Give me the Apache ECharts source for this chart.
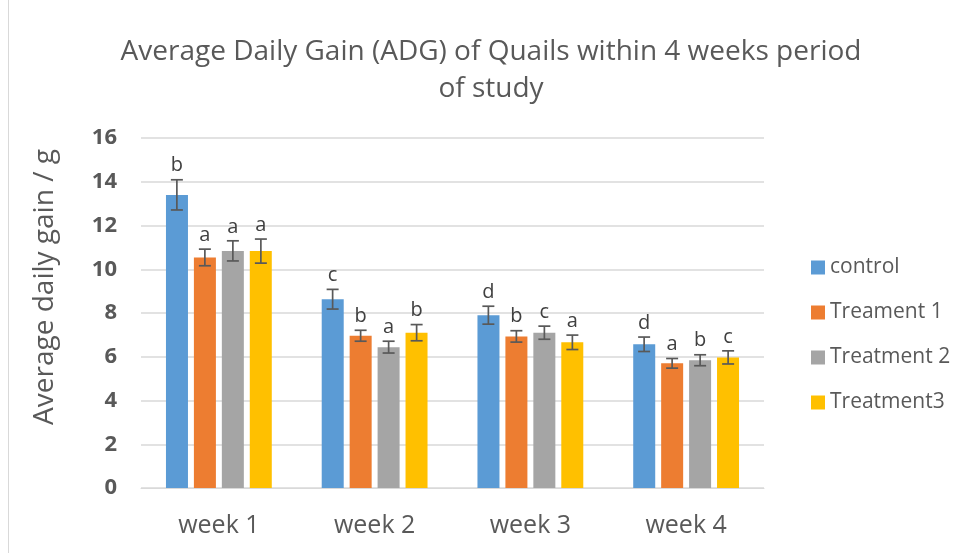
<!DOCTYPE html>
<html>
<head>
<meta charset="utf-8">
<script src="https://cdn.jsdelivr.net/npm/echarts@6/dist/echarts.min.js"></script>
<style>
  html, body { margin: 0; padding: 0; background: #fff; }
  #frame { position: absolute; left: 8px; top: -2px; width: 960px; height: 560px; border: 1px solid #d9d9d9; box-sizing: border-box; }
  #chart { width: 961px; height: 553px; }
</style>
</head>
<body>
<div id="frame"></div>
<div id="chart"></div>
<script>
const categories = ['week 1', 'week 2', 'week 3', 'week 4']
const seriesNames = ['control', 'Treament 1', 'Treatment 2', 'Treatment3']
const colors = ['#5B9BD5', '#ED7D31', '#A5A5A5', '#FFC000']

// mean values per series
const control = [13.4, 8.63, 7.9, 6.57]
const treatment1 = [10.54, 6.96, 6.93, 5.7]
const treatment2 = [10.84, 6.44, 7.1, 5.84]
const treatment3 = [10.83, 7.1, 6.66, 5.97]

// standard errors
const controlErr = [0.69, 0.45, 0.41, 0.33]
const treatment1Err = [0.38, 0.25, 0.26, 0.22]
const treatment2Err = [0.46, 0.27, 0.3, 0.25]
const treatment3Err = [0.55, 0.37, 0.33, 0.3]

// significance letters
const controlLetters = ['b', 'c', 'd', 'd']
const treatment1Letters = ['a', 'b', 'b', 'a']
const treatment2Letters = ['a', 'a', 'c', 'b']
const treatment3Letters = ['a', 'b', 'a', 'c']

const values = [control, treatment1, treatment2, treatment3]
const errors = [controlErr, treatment1Err, treatment2Err, treatment3Err]
const letters = [controlLetters, treatment1Letters, treatment2Letters, treatment3Letters]

const BAR_W = 22
const BAR_STEP = 28
const FONT = '"Open Sans", sans-serif'

const chart = echarts.init(document.getElementById('chart'))

const barSeries = seriesNames.map((name, i) => ({
  name: name,
  type: 'bar',
  data: values[i],
  barWidth: BAR_W,
  barGap: '27%',
  itemStyle: { color: colors[i] },
  z: 2
}))

const errSeries = seriesNames.map((name, i) => ({
  type: 'custom',
  name: name + ' err',
  data: values[i].map((v, j) => [j, v, errors[i][j]]),
  z: 5,
  silent: true,
  renderItem: (params, api) => {
    const c = api.value(0)
    const v = api.value(1)
    const e = api.value(2)
    const off = (i - 1.5) * BAR_STEP
    const hi = api.coord([c, v + e])
    const lo = api.coord([c, v - e])
    const x = hi[0] + off
    const cap = 6
    const stroke = { stroke: '#595959', lineWidth: 1.7 }
    return {
      type: 'group',
      children: [
        { type: 'line', shape: { x1: x, y1: hi[1], x2: x, y2: lo[1] }, style: stroke },
        { type: 'line', shape: { x1: x - cap, y1: hi[1], x2: x + cap, y2: hi[1] }, style: stroke },
        { type: 'line', shape: { x1: x - cap, y1: lo[1], x2: x + cap, y2: lo[1] }, style: stroke },
        {
          type: 'text',
          style: {
            x: x, y: hi[1] - 4,
            text: letters[i][c],
            fill: '#404040',
            font: '20px ' + FONT,
            align: 'center',
            verticalAlign: 'bottom'
          }
        }
      ]
    }
  }
}))

chart.setOption({
  animation: false,
  title: {
    text: 'Average Daily Gain (ADG) of Quails within 4 weeks period\nof study',
    left: 486,
    textAlign: 'center',
    top: 29,
    textStyle: { fontFamily: FONT, fontSize: 28, fontWeight: 'normal', color: '#595959', lineHeight: 37 }
  },
  legend: {
    data: seriesNames,
    orient: 'vertical',
    left: 806,
    top: 249,
    itemWidth: 14,
    itemHeight: 14,
    itemGap: 18,
    icon: 'rect',
    textStyle: { fontFamily: FONT, fontSize: 21, color: '#595959', lineHeight: 27 }
  },
  graphic: [{
    type: 'text',
    x: 45,
    y: 287,
    rotation: Math.PI / 2,
    style: {
      text: 'Average daily gain / g',
      font: '28px ' + FONT,
      fill: '#595959',
      align: 'center',
      verticalAlign: 'middle'
    }
  }],
  grid: { left: 141, right: 197, top: 138, bottom: 65 },
  xAxis: {
    type: 'category',
    data: categories,
    axisLine: { lineStyle: { color: '#d9d9d9', width: 1 } },
    axisTick: { show: false },
    axisLabel: { fontFamily: FONT, fontSize: 25, color: '#595959', margin: 25 }
  },
  yAxis: {
    type: 'value',
    min: 0,
    max: 16,
    interval: 2,
    axisLine: { show: false },
    axisTick: { show: false },
    axisLabel: { fontFamily: FONT, fontSize: 22, fontWeight: 'bold', color: '#595959', margin: 24 },
    splitLine: { lineStyle: { color: '#d9d9d9', width: 1.5 } }
  },
  series: barSeries.concat(errSeries)
})
</script>
</body>
</html>
